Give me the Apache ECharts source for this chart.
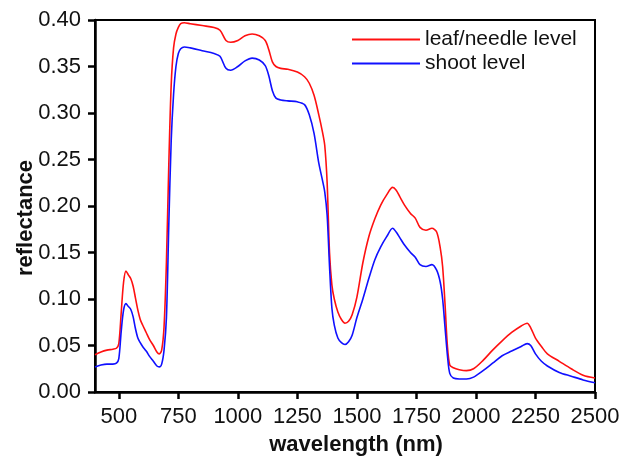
<!DOCTYPE html>
<html>
<head>
<meta charset="utf-8">
<script src="https://cdn.jsdelivr.net/npm/echarts@6/dist/echarts.min.js"></script>
<style>
  html, body { margin: 0; padding: 0; background: #fff; }
  #chart { width: 624px; height: 461px; }
</style>
</head>
<body>
<div id="chart"></div>
<script>
// wavelength samples (nm)
var wavelength = [400, 425, 450, 475, 490, 500, 510, 520, 530, 540, 550, 560, 570, 580, 590, 600, 615, 630, 645, 660, 670, 680, 690, 700, 710, 720, 730, 740, 750, 760, 775, 800, 850, 900, 925, 950, 970, 1000, 1030, 1060, 1090, 1115, 1130, 1145, 1160, 1180, 1210, 1250, 1280, 1300, 1320, 1340, 1355, 1365, 1375, 1385, 1395, 1405, 1420, 1435, 1450, 1465, 1480, 1500, 1525, 1550, 1575, 1600, 1625, 1650, 1665, 1680, 1700, 1725, 1745, 1765, 1790, 1815, 1835, 1850, 1860, 1870, 1880, 1890, 1905, 1930, 1960, 1990, 2030, 2070, 2110, 2150, 2190, 2215, 2230, 2250, 2275, 2300, 2350, 2400, 2450, 2500];

// leaf/needle level reflectance
var leafLevel = [0.040, 0.043, 0.045, 0.046, 0.047, 0.052, 0.085, 0.118, 0.130, 0.126, 0.122, 0.114, 0.101, 0.088, 0.078, 0.072, 0.064, 0.056, 0.050, 0.043, 0.041, 0.045, 0.070, 0.140, 0.245, 0.330, 0.370, 0.385, 0.392, 0.396, 0.397, 0.396, 0.394, 0.392, 0.389, 0.378, 0.376, 0.378, 0.383, 0.385, 0.383, 0.378, 0.368, 0.355, 0.350, 0.348, 0.347, 0.344, 0.339, 0.332, 0.319, 0.298, 0.280, 0.265, 0.225, 0.150, 0.115, 0.100, 0.086, 0.078, 0.074, 0.076, 0.083, 0.102, 0.139, 0.167, 0.186, 0.201, 0.212, 0.220, 0.217, 0.210, 0.201, 0.192, 0.187, 0.177, 0.174, 0.176, 0.172, 0.155, 0.135, 0.095, 0.050, 0.029, 0.026, 0.024, 0.023, 0.025, 0.034, 0.045, 0.055, 0.064, 0.071, 0.074, 0.069, 0.058, 0.049, 0.041, 0.033, 0.025, 0.018, 0.015];

// shoot level reflectance
var shootLevel = [0.027, 0.029, 0.030, 0.030, 0.031, 0.036, 0.065, 0.088, 0.095, 0.092, 0.089, 0.081, 0.068, 0.058, 0.053, 0.049, 0.044, 0.038, 0.033, 0.028, 0.027, 0.030, 0.045, 0.080, 0.180, 0.270, 0.320, 0.350, 0.364, 0.369, 0.371, 0.370, 0.367, 0.364, 0.361, 0.348, 0.346, 0.350, 0.356, 0.359, 0.357, 0.351, 0.340, 0.324, 0.316, 0.314, 0.313, 0.312, 0.309, 0.298, 0.278, 0.246, 0.228, 0.215, 0.190, 0.135, 0.090, 0.072, 0.058, 0.053, 0.051, 0.054, 0.061, 0.080, 0.100, 0.122, 0.142, 0.156, 0.167, 0.176, 0.172, 0.166, 0.158, 0.150, 0.145, 0.137, 0.135, 0.137, 0.131, 0.118, 0.100, 0.070, 0.040, 0.020, 0.015, 0.014, 0.014, 0.016, 0.023, 0.031, 0.039, 0.044, 0.049, 0.052, 0.050, 0.041, 0.033, 0.028, 0.021, 0.017, 0.013, 0.010];

var xTicks = [500, 750, 1000, 1250, 1500, 1750, 2000, 2250, 2500];

var myChart = echarts.init(document.getElementById('chart'));

var font = 'Liberation Sans, Arial, sans-serif';

function pairs(ys) {
    return wavelength.map(function(w, i) { return [w, ys[i]]; });
}

var option = {
    animation: false,
    textStyle: { fontFamily: font, color: '#111' },
    grid: {
        left: 95, right: 29, top: 20, bottom: 69,
        outerBoundsMode: 'none',
        show: true, borderColor: '#000', borderWidth: 2
    },
    legend: {
        orient: 'vertical',
        left: 347, top: 23,
        itemWidth: 68, itemHeight: 12, itemGap: 1,
        icon: 'path://M0,0 L68,0 L68,2 L0,2 Z',
        textStyle: { fontSize: 21, lineHeight: 23, color: '#111', fontFamily: font },
        data: ['leaf/needle level', 'shoot level']
    },
    xAxis: {
        type: 'value',
        min: 400, max: 2500,
        name: 'wavelength (nm)',
        nameLocation: 'middle',
        nameGap: 42,
        nameMoveOverlap: false,
        nameTextStyle: { fontSize: 22, fontWeight: 'bold', color: '#111', padding: [0, 0, 0, 22] },
        axisLine: { lineStyle: { color: '#000', width: 2.5 } },
        axisTick: { length: 7, lineStyle: { color: '#000', width: 2.5 }, customValues: xTicks },
        axisLabel: {
            fontSize: 22, color: '#111', margin: 14, customValues: xTicks,
            formatter: function(v) { return String(v); }
        },
        splitLine: { show: false }
    },
    yAxis: {
        type: 'value',
        min: 0, max: 0.4, interval: 0.05,
        name: 'reflectance',
        nameLocation: 'middle',
        nameGap: 58,
        nameMoveOverlap: false,
        nameTextStyle: { fontSize: 22, fontWeight: 'bold', color: '#111', padding: [0, 0, 0, -24] },
        axisLine: { lineStyle: { color: '#000', width: 2.5 } },
        axisTick: { length: 7, lineStyle: { color: '#000', width: 2.5 } },
        axisLabel: {
            fontSize: 22, color: '#111', margin: 14,
            formatter: function(v) { return v.toFixed(2); }
        },
        splitLine: { show: false }
    },
    series: [
        {
            name: 'leaf/needle level',
            type: 'line',
            data: pairs(leafLevel),
            showSymbol: false,
            smooth: 0.3,
            lineStyle: { color: '#ff1010', width: 1.6 },
            itemStyle: { color: '#ff1010' }
        },
        {
            name: 'shoot level',
            type: 'line',
            data: pairs(shootLevel),
            showSymbol: false,
            smooth: 0.3,
            lineStyle: { color: '#1010ff', width: 1.6 },
            itemStyle: { color: '#1010ff' }
        }
    ]
};

myChart.setOption(option);

window.onresize = function() {
    myChart.resize();
};
</script>
</body>
</html>
